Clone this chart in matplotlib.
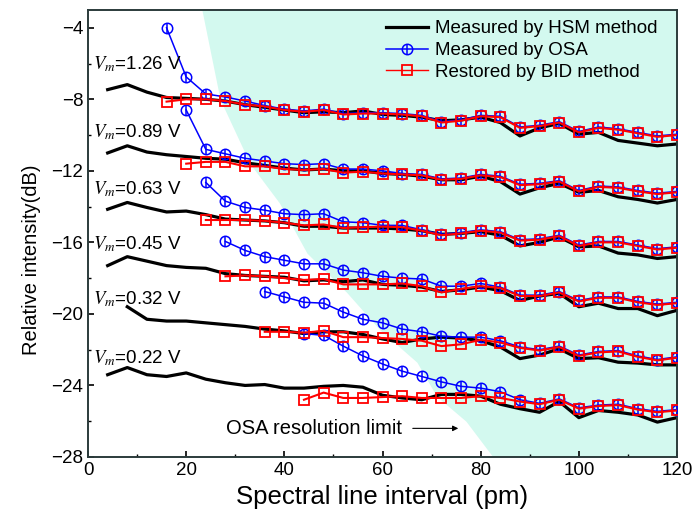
import matplotlib
matplotlib.use("Agg")
import matplotlib.pyplot as plt
from matplotlib.lines import Line2D

plt.rcParams["font.family"] = ["Liberation Sans", "DejaVu Sans"]
plt.rcParams["mathtext.fontset"] = "stix"

# HSM (black) curves, x = 4..120 step 4 (0.32 V starts at 8)
hsm_126 = [-7.46, -7.18, -7.6, -7.9, -7.95, -8.0, -8.1, -8.3, -8.45, -8.6, -8.75, -8.7, -8.75, -8.65, -8.85,
           -8.9, -9.0, -9.2, -9.15, -9.0, -9.3, -10.05, -9.6, -9.35, -9.95, -9.85, -10.3, -10.45, -10.6, -10.5]
hsm_089 = [-11.0, -10.6, -10.95, -11.1, -11.2, -11.3, -11.35, -11.55, -11.7, -11.85, -11.95, -11.9, -12.0, -12.0, -12.15,
           -12.2, -12.3, -12.5, -12.5, -12.3, -12.6, -13.3, -12.95, -12.7, -13.2, -13.1, -13.45, -13.6, -13.8, -13.6]
hsm_063 = [-14.15, -13.77, -14.05, -14.3, -14.25, -14.45, -14.7, -14.75, -14.8, -14.9, -15.1, -15.1, -15.2, -15.2, -15.2,
           -15.25, -15.35, -15.55, -15.5, -15.4, -15.6, -16.2, -16.0, -15.7, -16.25, -16.2, -16.6, -16.7, -16.9, -16.8]
hsm_045 = [-17.3, -16.8, -17.05, -17.3, -17.4, -17.45, -17.75, -17.85, -17.9, -17.95, -18.15, -18.1, -18.2, -18.1, -18.35,
           -18.4, -18.5, -18.75, -18.65, -18.5, -18.7, -19.25, -19.0, -18.85, -19.6, -19.4, -19.7, -19.7, -20.1, -19.8]
hsm_032 = [-19.6, -20.3, -20.4, -20.4, -20.5, -20.6, -20.7, -20.85, -20.95, -21.1, -21.0, -21.0, -21.15, -21.4,
           -21.6, -21.4, -21.3, -21.35, -21.5, -21.85, -22.5, -22.3, -21.95, -22.5, -22.45, -22.7, -22.75, -22.85, -22.85]
hsm_022 = [-23.4, -23.0, -23.4, -23.5, -23.3, -23.65, -23.85, -24.0, -23.95, -24.15, -24.15, -24.05, -24.0, -24.1, -24.55,
           -24.7, -24.8, -24.5, -24.5, -24.6, -25.05, -25.3, -25.5, -24.9, -25.8, -25.4, -25.5, -25.65, -26.05, -25.8]

# OSA (blue) and BID (red) curves, x step 4 up to 120
osa_126 = [-4.0, -6.75, -7.7, -7.87, -8.1, -8.35, -8.55, -8.65, -8.55, -8.8, -8.75, -8.75, -8.8, -8.9,
           -9.25, -9.15, -8.9, -8.95, -9.55, -9.45, -9.25, -9.8, -9.55, -9.65, -9.85, -10.05, -9.95]
bid_126 = [-8.13, -8.0, -8.0, -8.1, -8.3, -8.4, -8.6, -8.7, -8.6, -8.85, -8.8, -8.8, -8.85, -8.95,
           -9.3, -9.2, -8.95, -9.0, -9.6, -9.5, -9.3, -9.85, -9.6, -9.7, -9.9, -10.1, -10.0]
osa_089 = [-8.6, -10.8, -11.05, -11.3, -11.45, -11.6, -11.65, -11.6, -11.9, -11.9, -12.0, -12.15, -12.2,
           -12.45, -12.4, -12.2, -12.3, -12.75, -12.7, -12.55, -13.1, -12.85, -12.9, -13.1, -13.25, -13.15]
bid_089 = [-11.6, -11.5, -11.5, -11.75, -11.75, -11.9, -11.95, -11.9, -12.1, -12.05, -12.15, -12.2, -12.25,
           -12.5, -12.45, -12.25, -12.35, -12.8, -12.75, -12.6, -13.15, -12.9, -12.95, -13.15, -13.3, -13.2]
osa_063 = [-12.65, -13.7, -14.05, -14.2, -14.4, -14.45, -14.4, -14.85, -14.9, -15.05, -15.05, -15.3, -15.55,
           -15.45, -15.3, -15.4, -15.85, -15.8, -15.6, -16.15, -15.95, -15.95, -16.15, -16.35, -16.25]
bid_063 = [-14.75, -14.75, -14.75, -14.8, -14.9, -15.05, -15.0, -15.2, -15.15, -15.12, -15.15, -15.35, -15.6,
           -15.5, -15.35, -15.45, -15.9, -15.85, -15.65, -16.2, -16.0, -16.0, -16.2, -16.4, -16.3]
osa_045 = [-15.95, -16.45, -16.8, -17.0, -17.2, -17.2, -17.55, -17.7, -17.9, -18.0, -18.05, -18.45,
           -18.45, -18.3, -18.5, -18.95, -18.95, -18.75, -19.25, -19.05, -19.05, -19.3, -19.45, -19.35]
bid_045 = [-17.9, -17.85, -17.9, -18.0, -18.1, -18.05, -18.35, -18.35, -18.35, -18.3, -18.45, -18.8,
           -18.6, -18.45, -18.55, -19.0, -19.0, -18.8, -19.3, -19.1, -19.1, -19.35, -19.5, -19.4]
osa_032 = [-18.75, -19.05, -19.35, -19.4, -19.9, -20.3, -20.5, -20.85, -21.0, -21.25, -21.3,
           -21.3, -21.5, -21.85, -22.0, -21.8, -22.3, -22.1, -22.05, -22.35, -22.55, -22.4]
bid_032 = [-21.0, -21.0, -21.05, -20.95, -21.3, -21.3, -21.35, -21.4, -21.5, -21.8, -21.7,
           -21.45, -21.6, -21.9, -22.05, -21.85, -22.35, -22.15, -22.1, -22.4, -22.6, -22.45]
osa_022 = [-21.1, -21.2, -21.8, -22.35, -22.8, -23.2, -23.5, -23.8, -24.05, -24.15,
           -24.35, -24.8, -25.0, -24.75, -25.25, -25.1, -25.05, -25.3, -25.45, -25.35]
bid_022 = [-24.8, -24.4, -24.7, -24.7, -24.65, -24.6, -24.7, -24.7, -24.7, -24.6,
           -24.7, -24.9, -25.05, -24.8, -25.3, -25.15, -25.1, -25.35, -25.5, -25.4]

voltages = ["1.26", "0.89", "0.63", "0.45", "0.32", "0.22"]
label_y = [-6.06, -9.86, -13.04, -16.1, -19.18, -22.5]
hsm_curves = [hsm_126, hsm_089, hsm_063, hsm_045, hsm_032, hsm_022]
osa_curves = [osa_126, osa_089, osa_063, osa_045, osa_032, osa_022]
bid_curves = [bid_126, bid_089, bid_063, bid_045, bid_032, bid_022]
hsm_start = [4, 4, 4, 4, 8, 4]
osa_start = [16, 20, 24, 28, 36, 44]
bid_start = [16, 20, 24, 28, 36, 44]

# OSA resolution limit boundary
limit_x = [23.2, 26.9, 33.0, 39.0, 44.6, 52.7, 59.5, 67.0, 71.0, 77.0, 82.5]
limit_y = [-3.0, -8.0, -11.6, -13.8, -16.6, -18.8, -20.9, -22.7, -24.6, -26.0, -28.0]

fig = plt.figure(figsize=(6.97, 5.19), dpi=100)
ax = fig.add_axes([0.1263, 0.1195, 0.845, 0.8615])

ax.fill_betweenx(limit_y, limit_x, 120, color="#d3f9ef", lw=0, zorder=0)

for y, x0 in zip(hsm_curves, hsm_start):
    ax.plot(list(range(x0, 121, 4)), y, color="black", lw=2.3, zorder=2)

for y, x0 in zip(osa_curves, osa_start):
    xs = list(range(x0, 121, 4))
    ax.plot(xs, y, color="#0000ff", lw=1.1, marker="o", ms=7.5, mfc="none", mew=1.1, zorder=3)
    ax.plot(xs, y, ls="none", color="#0000ff", marker="|", ms=7.5, mew=1.1, zorder=3)

for y, x0 in zip(bid_curves, bid_start):
    xs = list(range(x0, 121, 4))
    ax.plot(xs, y, color="#ff0000", lw=1.5, marker="s", ms=6.5, mfc="none", mew=1.3, zorder=4)

for v, ly in zip(voltages, label_y):
    ax.text(1.0, ly, r"$V_m$=" + v + " V", fontsize=13.5, va="center", ha="left", zorder=5)

ax.text(28.1, -26.4, "OSA resolution limit", fontsize=14.5, va="center", ha="left")
ax.annotate("", xy=(76.0, -26.4), xytext=(65.6, -26.4),
            arrowprops=dict(arrowstyle="-|>", color="black", lw=0.8, mutation_scale=8))

ax.set_xlim(0, 120)
ax.set_ylim(-28, -3)
ax.set_xticks([0, 20, 40, 60, 80, 100, 120])
ax.set_xticks(range(10, 120, 20), minor=True)
ax.set_yticks([-28, -24, -20, -16, -12, -8, -4])
ax.set_yticks(range(-26, -3, 4), minor=True)
ax.tick_params(direction="in", labelsize=13.5, length=4, width=1.2)
ax.tick_params(which="minor", direction="in", length=2.5, width=1.0)
for s in ax.spines.values():
    s.set_color("#2b3b3b")
    s.set_linewidth(1.4)

ax.set_xlabel("Spectral line interval (pm)", fontsize=18.5)
ax.set_ylabel("Relative intensity(dB)", fontsize=14.5)
ax.xaxis.set_label_coords(0.5, -0.062)
ax.yaxis.set_label_coords(-0.08, 0.44)

h_hsm = Line2D([], [], color="black", lw=2.3)
h_osa = Line2D([], [], color="#0000ff", lw=1.1, marker="o", ms=7.5, mfc="none", mew=1.1)
h_osa_bar = Line2D([], [], ls="none", color="#0000ff", marker="|", ms=7.5, mew=1.1)
h_bid = Line2D([], [], color="#ff0000", lw=1.0, marker="s", ms=6.5, mfc="none", mew=1.3)
ax.legend([h_hsm, (h_osa, h_osa_bar), h_bid],
          ["Measured by HSM method", "Measured by OSA", "Restored by BID method"],
          loc="upper right", bbox_to_anchor=(0.985, 1.0), frameon=False, fontsize=13.5,
          handlelength=2.25, handletextpad=0.37, labelspacing=0.25, borderaxespad=0.15)

fig.savefig("out.png", dpi=100)
